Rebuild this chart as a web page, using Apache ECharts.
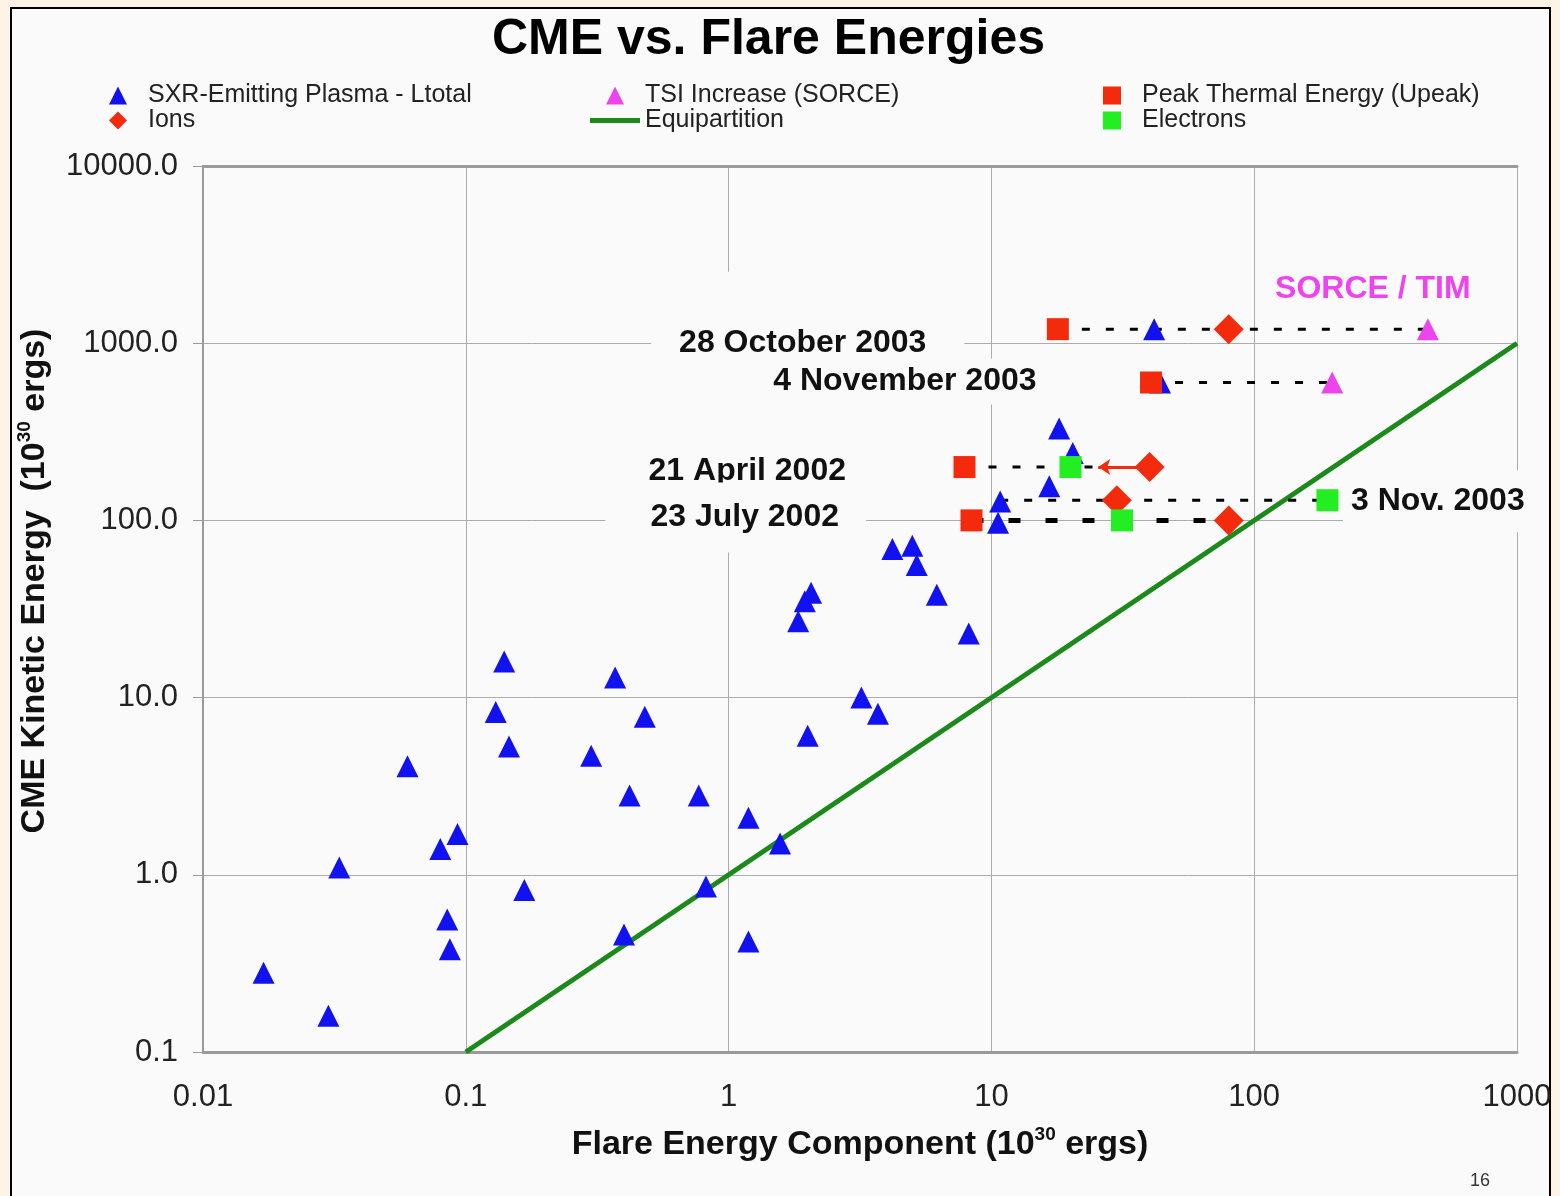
<!DOCTYPE html>
<html>
<head>
<meta charset="utf-8">
<title>CME vs. Flare Energies</title>
<script src="https://cdn.jsdelivr.net/npm/echarts@6/dist/echarts.min.js"></script>
<style>
  html, body { margin: 0; padding: 0; background: #fdf3e6; }
  #panel { position: absolute; left: 10px; top: 7px; width: 1541px; height: 1200px;
           background: #fafafa; border: 2px solid #000; box-sizing: border-box; }
  #chart { position: absolute; left: 0; top: 0; width: 1560px; height: 1196px; }
</style>
</head>
<body>
<div id="panel"></div>
<div id="chart"></div>
<script>
// Axis tick labels (log decades)
const xTickLabels = ['0.01', '0.1', '1', '10', '100', '1000'];
const yTickLabels = ['0.1', '1.0', '10.0', '100.0', '1000.0', '10000.0'];

// [flare energy component, CME kinetic energy], both in 1e30 ergs
const sxrPlasma = [
  [0.017, 0.28], [0.030, 0.16], [0.033, 1.1], [0.060, 4.1], [0.080, 1.4], [0.093, 1.7],
  [0.085, 0.56], [0.087, 0.38], [0.13, 8.3], [0.14, 16], [0.146, 5.3], [0.167, 0.82],
  [0.30, 4.7], [0.37, 13], [0.42, 2.8], [0.48, 7.8], [0.40, 0.46], [0.77, 2.8],
  [0.82, 0.86], [1.19, 2.1], [1.19, 0.42], [1.57, 1.5], [1.84, 27], [1.95, 35],
  [2.06, 39], [2.0, 6.1], [3.2, 10], [3.7, 8.1], [4.2, 69], [5.0, 72], [5.2, 56],
  [6.2, 38], [8.2, 23],
  [41.6, 1200], [43.8, 600], [18.1, 330], [20.4, 240], [16.6, 156], [10.8, 128], [10.6, 97]
];
const tsiIncrease = [[458, 1200], [198, 600]];
const peakThermal = [[17.9, 1200], [40.5, 600], [7.9, 200], [8.4, 100]];
const ions = [[80, 1200], [40, 200], [30, 130], [80, 100]];
const electrons = [[20, 200], [190, 130], [31.4, 100]];
const equipartition = [[0.1, 0.1], [1000, 1000]];

// Individual events: CME energy and the span of flare components joined by dashes
const eventNames = ['28 October 2003', '21 April 2002', '4 November 2003', '3 Nov. 2003', '23 July 2002'];
const eventCME = [1200, 200, 600, 130, 100];
const eventFrom = [17.9, 7.9, 40.5, 10.8, 8.4];
const eventTo = [458, 24.8, 198, 190, 80];

// 21 April 2002: ion energy is an upper limit, arrow points to lower values
const ionLimitFrom = [40, 200];
const ionLimitTo = [25.5, 200];

const FONT = '"Liberation Sans", Arial, Helvetica, sans-serif';
const BLUE = '#1212f0';
const RED = '#f42a0c';
const GREEN_PT = '#22ee22';
const MAGENTA = '#ee44ee';
const GREEN_LINE = '#1b8a1b';
const PANEL = '#fafafa';

// Legend glyphs drawn as paths so they keep a square aspect inside wide legend cells
const ICON_TRIANGLE = 'path://M0,1L0.5,0L1,1Z';
const ICON_DIAMOND = 'path://M0.5,0L1,0.5L0.5,1L0,0.5Z';
const ICON_SQUARE = 'path://M0,0L1,0L1,1L0,1Z';
const ICON_BAR = 'path://M0,0L10,0L10,1L0,1Z';

// Caption placement for each event (styling only), same order as eventNames
const eventLabelLayout = [
  { anchor: 'from', position: 'left', distance: 93, offset: [0, 14], padding: [30, 38, 75, 28] },
  { anchor: 'from', position: 'left', distance: 98, offset: [0, 4], padding: [80, 20, 6, 20] },
  { anchor: 'from', position: 'left', distance: 104, offset: [0, -1], padding: [4, 10, 4, 10] },
  { anchor: 'to', position: 'right', distance: 15, offset: [0, 1], padding: [12, 8, 12, 8] },
  { anchor: 'from', position: 'left', distance: 115, offset: [0, -3], padding: [4, 17, 28, 45] }
];

const chart = echarts.init(document.getElementById('chart'), null, { renderer: 'canvas' });

const eventLinks = eventNames.map((name, i) => ({
  name: 'link ' + name,
  type: 'line',
  silent: true,
  symbol: 'none',
  z: 3,
  data: [[eventFrom[i], eventCME[i]], [eventTo[i], eventCME[i]]],
  lineStyle: name === '23 July 2002'
    ? { color: '#000', width: 5, type: [12, 25] }
    : { color: '#000', width: 3, type: [8, 16] }
}));

const eventCaptions = {
  name: 'event captions',
  type: 'scatter',
  silent: true,
  symbolSize: 1,
  z: 6,
  itemStyle: { color: 'rgba(0,0,0,0)', opacity: 1 },
  data: eventNames.map((name, i) => {
    const lay = eventLabelLayout[i];
    const x = lay.anchor === 'from' ? eventFrom[i] : eventTo[i];
    return {
      value: [x, eventCME[i]],
      label: {
        show: true,
        formatter: name,
        position: lay.position,
        distance: lay.distance,
        offset: lay.offset,
        padding: lay.padding,
        backgroundColor: PANEL,
        color: '#111',
        opacity: 1,
        fontFamily: FONT,
        fontWeight: 'bold',
        fontSize: 32,
        lineHeight: 38
      }
    };
  })
};

const legendText = { fontFamily: FONT, fontSize: 25, color: '#222', lineHeight: 24 };

const option = {
  animation: false,
  backgroundColor: 'transparent',
  textStyle: { fontFamily: FONT },
  title: [
    {
      text: 'CME vs. Flare Energies',
      left: 487, top: 10,
      textStyle: { fontFamily: FONT, fontSize: 50, fontWeight: 'bold', color: '#000' }
    },
    {
      text: '16',
      left: 1465, top: 1167,
      textStyle: { fontFamily: FONT, fontSize: 18, fontWeight: 'normal', color: '#333' }
    }
  ],
  legend: [
    {
      left: 104, top: 78, orient: 'vertical', itemWidth: 50, itemHeight: 18, itemGap: 0,
      selectedMode: false, symbolKeepAspect: true,
      data: [
        { name: 'SXR-Emitting Plasma - Ltotal', icon: ICON_TRIANGLE },
        { name: 'Ions', icon: ICON_DIAMOND }
      ],
      textStyle: legendText
    },
    {
      left: 585, top: 78, orient: 'vertical', itemWidth: 50, itemHeight: 18, itemGap: 0,
      selectedMode: false, symbolKeepAspect: true,
      data: [
        { name: 'TSI Increase (SORCE)', icon: ICON_TRIANGLE },
        { name: 'Equipartition', icon: ICON_BAR }
      ],
      textStyle: legendText
    },
    {
      left: 1098, top: 78, orient: 'vertical', itemWidth: 50, itemHeight: 18, itemGap: 0,
      selectedMode: false, symbolKeepAspect: true,
      data: [
        { name: 'Peak Thermal Energy (Upeak)', icon: ICON_SQUARE },
        { name: 'Electrons', icon: ICON_SQUARE }
      ],
      textStyle: legendText
    }
  ],
  grid: { left: 203, right: 43, top: 166, bottom: 144, outerBoundsMode: 'none', containLabel: false },
  xAxis: [
    {
      type: 'log', logBase: 10, min: 0.01, max: 1000,
      name: 'Flare Energy Component (10{sup|30} ergs)',
      nameLocation: 'middle', nameGap: 73,
      nameTextStyle: {
        fontFamily: FONT, fontSize: 34, fontWeight: 'bold', color: '#111', lineHeight: 40,
        rich: { sup: { fontFamily: FONT, fontSize: 19, fontWeight: 'bold', color: '#111', verticalAlign: 'top', lineHeight: 14 } }
      },
      axisLine: { show: true, lineStyle: { color: '#9a9a9a', width: 3 } },
      axisTick: { show: false },
      axisLabel: {
        margin: 30, fontFamily: FONT, fontSize: 31, color: '#222',
        formatter: (v, i) => xTickLabels[i]
      },
      splitLine: { show: true, lineStyle: { color: '#acacac', width: 1 } },
      minorTick: { show: false }
    },
    {
      type: 'log', logBase: 10, min: 0.01, max: 1000, position: 'top',
      axisLine: { show: true, lineStyle: { color: '#9a9a9a', width: 3 } },
      axisTick: { show: false }, axisLabel: { show: false }, splitLine: { show: false }
    }
  ],
  yAxis: [
    {
      type: 'log', logBase: 10, min: 0.1, max: 10000,
      name: 'CME Kinetic Energy  (10{sup|30} ergs)',
      nameLocation: 'middle', nameGap: 132,
      nameTextStyle: {
        fontFamily: FONT, fontSize: 34, fontWeight: 'bold', color: '#111', lineHeight: 40,
        padding: [0, 0, 0, 56],
        rich: { sup: { fontFamily: FONT, fontSize: 19, fontWeight: 'bold', color: '#111', verticalAlign: 'top', lineHeight: 14 } }
      },
      axisLine: { show: true, lineStyle: { color: '#9a9a9a', width: 2 } },
      axisTick: { show: true, length: 10, inside: false, lineStyle: { color: '#9a9a9a', width: 1 } },
      axisLabel: {
        margin: 25, fontFamily: FONT, fontSize: 31, color: '#222',
        formatter: (v, i) => yTickLabels[i]
      },
      splitLine: { show: true, lineStyle: { color: '#acacac', width: 1 } }
    },
    {
      type: 'log', logBase: 10, min: 0.1, max: 10000, position: 'right',
      axisLine: { show: true, lineStyle: { color: '#acacac', width: 1 } },
      axisTick: { show: false }, axisLabel: { show: false }, splitLine: { show: false }
    }
  ],
  series: [
    {
      name: 'Equipartition',
      type: 'line',
      silent: true,
      symbol: 'none',
      z: 2,
      data: equipartition,
      itemStyle: { color: GREEN_LINE },
      lineStyle: { color: GREEN_LINE, width: 5 }
    },
    ...eventLinks,
    {
      name: 'SXR-Emitting Plasma - Ltotal',
      type: 'scatter',
      silent: true,
      symbol: 'triangle',
      symbolSize: 22,
      z: 4,
      itemStyle: { color: BLUE, opacity: 1 },
      data: sxrPlasma
    },
    {
      name: 'TSI Increase (SORCE)',
      type: 'scatter',
      silent: true,
      symbol: 'triangle',
      symbolSize: 22,
      z: 4,
      itemStyle: { color: MAGENTA, opacity: 1 },
      data: tsiIncrease.map((p, i) => i === 0 ? {
        value: p,
        label: {
          show: true, formatter: 'SORCE / TIM', position: 'top', distance: 5, offset: [-55, -5],
          color: MAGENTA, fontFamily: FONT, fontWeight: 'bold', fontSize: 32, lineHeight: 38
        }
      } : { value: p })
    },
    {
      name: 'Ions',
      type: 'scatter',
      silent: true,
      symbol: 'diamond',
      symbolSize: 30,
      z: 5,
      itemStyle: { color: RED, opacity: 1 },
      data: ions,
      markLine: {
        silent: true,
        symbol: ['none', 'arrow'],
        symbolSize: [12, 12],
        label: { show: false },
        lineStyle: { color: RED, width: 3, type: 'solid' },
        data: [[{ coord: ionLimitFrom }, { coord: ionLimitTo }]]
      }
    },
    {
      name: 'Peak Thermal Energy (Upeak)',
      type: 'scatter',
      silent: true,
      symbol: 'rect',
      symbolSize: 22,
      z: 5,
      itemStyle: { color: RED, opacity: 1 },
      data: peakThermal
    },
    {
      name: 'Electrons',
      type: 'scatter',
      silent: true,
      symbol: 'rect',
      symbolSize: 22,
      z: 5,
      itemStyle: { color: GREEN_PT, opacity: 1 },
      data: electrons
    },
    eventCaptions
  ]
};

chart.setOption(option);
</script>
</body>
</html>
